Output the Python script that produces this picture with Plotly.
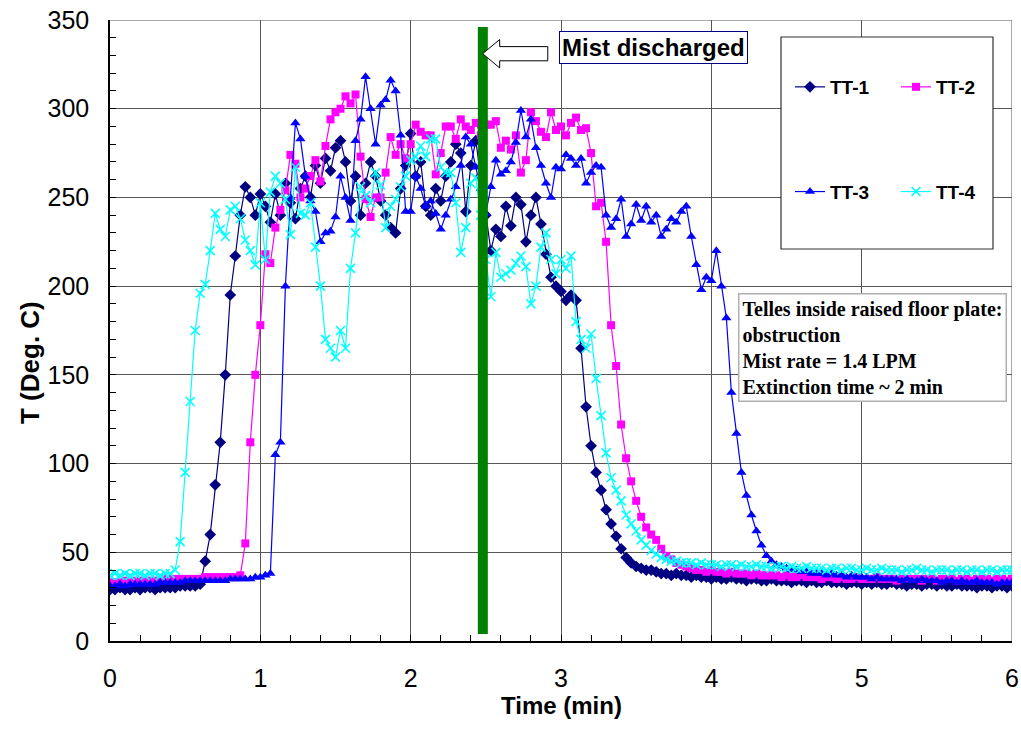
import plotly.graph_objects as go

# ---------------- data (sampled every 2 s = 1/30 min) ----------------
TT1 = [29,29,30,29,29,30,29,30,30,29,30,30,30,30,31,31,31,31,32,
       45,60,88,112,150,195,217,240,256,250,240,252,
       245,236,252,240,258,247,238,255,262,250,268,258,272,265,278,282,270,248,262,240,
       258,270,262,248,240,233,230,255,268,286,262,270,245,240,255,248,262,270,280,275,
       242,268,282,262,
       240,220,232,228,245,234,250,246,225,240,250,235,218,205,200,197,192,195,192,
       165,132,110,95,85,74,66,59,52,47,44,42,41,40,40,39,38,
       38,37,38,37,37,36,37,36,36,35,36,35,35,36,35,35,34,35,35,34,
       34,35,34,34,34,33,34,34,33,34,33,33,34,33,33,33,32,33,33,32,
       33,32,33,32,32,33,32,32,31,32,32,31,32,32,31,32,31,31,32,31,
       31,31,30,31,31,30,31,31,30,31]

TT2 = [33,33,33,34,33,34,34,34,34,34,34,35,35,35,35,35,35,35,35,36,36,36,36,36,36,36,
       37,55,112,150,178,218,213,233,
       243,254,274,269,250,255,262,271,259,279,294,298,300,307,303,308,273,249,239,250,
       250,264,284,274,280,272,280,291,287,285,285,263,275,290,290,283,294,290,288,292,
       285,291,291,293,278,282,277,285,264,271,298,293,287,284,298,288,290,285,292,295,
       288,289,275,
       245,247,225,178,155,122,103,90,79,70,64,60,57,52,48,46,44,43,42,41,40,40,
       39,40,39,39,38,39,38,38,38,37,38,37,37,37,37,36,37,36,36,37,
       36,36,36,35,36,36,35,36,35,35,36,35,35,35,36,35,35,35,34,35,
       35,35,35,34,35,35,34,35,35,35,34,35,35,34,35,35,35,34,35,35,
       34,35]

TT3 = [31,31,32,31,32,32,32,32,32,32,33,33,33,33,33,34,34,34,34,34,
       34,34,34,34,35,35,35,35,35,36,36,37,
       38,105,112,200,250,292,283,262,248,242,225,230,231,239,262,250,237,282,294,
       318,300,280,302,305,316,310,285,242,242,262,255,245,248,241,232,240,249,256,268,
       284,280,267,255,241,256,271,263,265,270,281,299,284,294,278,268,258,250,267,266,
       274,272,268,272,258,264,268,267,
       240,233,238,249,228,235,246,237,245,236,240,228,232,238,236,242,245,228,212,198,
       205,203,220,200,182,140,117,95,82,71,62,54,48,45,43,42,41,40,
       40,39,39,38,38,38,37,38,37,37,36,37,36,36,36,35,36,35,35,35,
       35,34,35,34,34,35,34,34,34,33,34,34,33,34,33,33,34,33,33,33,
       32,33,33,33]

TT4 = [37,38,37,38,37,38,38,37,38,38,37,38,38,
       40,56,95,135,175,196,201,220,241,232,228,243,245,238,226,220,212,247,215,253,262,
       258,249,229,267,241,240,247,222,200,170,165,160,175,165,210,230,256,251,247,264,
       257,233,245,249,256,262,271,273,279,273,283,283,267,264,264,247,219,233,258,261,
       240,
       215,194,219,205,207,209,213,217,211,190,200,222,230,215,207,215,210,217,180,170,
       165,173,148,127,106,92,85,79,71,66,62,57,54,51,49,47,
       46,45,45,44,44,44,43,44,43,43,43,42,43,43,42,43,42,42,43,42,
       42,41,42,42,41,42,41,41,42,41,41,41,40,41,41,40,41,41,40,40,
       41,40,40,41,40,40,40,39,40,40,41,40,40,39,40,40,40,39,40,40,
       39,40,40,39,40,40,39,40,40,40]

SERIES_NAMES = ["TT-1", "TT-2", "TT-3", "TT-4"]
SAMPLE_STEP_MIN = 1 / 30          # 2-second sampling
MIST_TIME = 2.48                   # minute at which mist is discharged
X_TICKS = [0, 1, 2, 3, 4, 5, 6]
Y_TICKS = [0, 50, 100, 150, 200, 250, 300, 350]

def times(vals):
    return [round(i * SAMPLE_STEP_MIN, 5) for i in range(len(vals))]

# ---------------- figure ----------------
W, H = 1021, 740
# plot area in screen pixels: x 110..1012, y 20..641
SL, SR, ST, SB = 110, 1012, 20, 641
ML, MT = SL, ST
MR, MB = W - SR, H - SB
PW, PH = SR - SL, SB - ST

def px(x):   # screen pixel -> paper x
    return (x - SL) / PW

def py(y):   # screen pixel -> paper y
    return (SB - y) / PH

GRID = "#555555"

styles = {
    "TT-1": dict(color="#000080", symbol="diamond", size=9, legend="legend", group="g1"),
    "TT-2": dict(color="#FF00FF", symbol="square", size=8, legend="legend2", group="g2"),
    "TT-3": dict(color="#0000FF", symbol="triangle-up", size=9, legend="legend", group="g3"),
    "TT-4": dict(color="#00FFFF", symbol="x-thin", size=9, legend="legend2", group="g4"),
}

fig = go.Figure()
for name, vals in zip(SERIES_NAMES, [TT1, TT2, TT3, TT4]):
    s = styles[name]
    marker = dict(symbol=s["symbol"], size=s["size"], color=s["color"])
    if s["symbol"] == "x-thin":
        marker["line"] = dict(color=s["color"], width=1.6)
    else:
        marker["line"] = dict(width=0)
    fig.add_trace(go.Scatter(
        x=times(vals), y=vals, name=f"<b>{name}</b>", mode="lines+markers",
        line=dict(color=s["color"], width=1.2), marker=marker,
        legend=s["legend"], legendgroup=s["group"],
    ))

axis_common = dict(
    showline=True, linecolor="black", linewidth=1.5,
    showgrid=True, gridcolor=GRID, gridwidth=1,
    zeroline=False, ticks="inside", ticklen=6, tickcolor="black", tickwidth=1,
    tickfont=dict(size=25, color="black", family="Liberation Sans, Arial"),
    automargin=False, ticklabeloverflow="allow",
)
fig.update_xaxes(range=[0, 6], tickvals=X_TICKS, ticktext=[str(v) for v in X_TICKS],
                 minor=dict(dtick=0.2, tick0=0, ticks="inside", ticklen=6, tickcolor="black", showgrid=False),
                 ticklabelstandoff=14, **axis_common)
fig.update_yaxes(range=[0, 350], tickvals=Y_TICKS, ticktext=[str(v) for v in Y_TICKS],
                 minor=dict(dtick=10, tick0=0, ticks="inside", ticklen=6, tickcolor="black", showgrid=False),
                 ticklabelstandoff=14, **axis_common)

shapes = []
# gridlines at the far edges of the plot (top and right)
shapes.append(dict(type="line", xref="x", yref="y", x0=X_TICKS[0], x1=X_TICKS[-1],
                   y0=Y_TICKS[-1], y1=Y_TICKS[-1], line=dict(color=GRID, width=1), layer="below"))
shapes.append(dict(type="line", xref="x", yref="y", x0=X_TICKS[-1], x1=X_TICKS[-1],
                   y0=Y_TICKS[0], y1=Y_TICKS[-1], line=dict(color=GRID, width=1), layer="below"))
# legend box
shapes.append(dict(type="rect", xref="paper", yref="paper",
                   x0=px(781), x1=px(993), y0=py(249), y1=py(37),
                   fillcolor="white", line=dict(color="#333333", width=1.2), layer="above"))
# mist discharge bar
shapes.append(dict(type="line", xref="x", yref="y", x0=MIST_TIME, x1=MIST_TIME, y0=4, y1=346,
                   line=dict(color="#008000", width=10), layer="above"))
# block arrow pointing to the bar
ax_tip = 2.479
ax_head, ax_end = 2.592, 2.912
path = (f"M{ax_tip},331 L{ax_head},339 L{ax_head},335 L{ax_end},335 "
        f"L{ax_end},327 L{ax_head},327 L{ax_head},323 Z")
shapes.append(dict(type="path", xref="x", yref="y", path=path,
                   fillcolor="white", line=dict(color="black", width=1), layer="above"))

annotations = [
    dict(text="<b>Mist discharged</b>", xref="paper", yref="paper", x=px(653), y=py(48),
         xanchor="center", yanchor="middle", showarrow=False,
         font=dict(size=24, color="black", family="Liberation Sans, Arial"),
         bgcolor="white", bordercolor="#000080", borderwidth=1, borderpad=2),
    dict(text="<b>Telles inside raised floor plate:<br>obstruction<br>Mist rate = 1.4 LPM<br>Extinction time ~ 2 min</b>",
         xref="paper", yref="paper", x=px(738), y=py(293), xanchor="left", yanchor="top",
         align="left", showarrow=False,
         font=dict(size=20, color="black", family="Liberation Serif, Times New Roman"),
         bgcolor="white", bordercolor="#b0b0b0", borderwidth=1.5, borderpad=3),
    dict(text="<b>Time (min)</b>", xref="paper", yref="paper", x=px(561), y=py(705),
         xanchor="center", yanchor="middle", showarrow=False,
         font=dict(size=24, color="black", family="Liberation Sans, Arial")),
    dict(text="<b>T (Deg. C)</b>", xref="paper", yref="paper", x=px(30), y=py(363),
         xanchor="center", yanchor="middle", showarrow=False, textangle=-90,
         font=dict(size=26, color="black", family="Liberation Sans, Arial")),
]

legend_common = dict(bgcolor="rgba(0,0,0,0)", borderwidth=0, tracegroupgap=77,
                     font=dict(size=19, color="black", family="Liberation Sans, Arial"),
                     xanchor="left", yanchor="top", itemclick=False)

fig.update_layout(
    width=W, height=H, margin=dict(l=ML, r=MR, t=MT, b=MB, autoexpand=False),
    paper_bgcolor="white", plot_bgcolor="white",
    font=dict(family="Liberation Sans, Arial", color="black"),
    showlegend=True,
    legend=dict(x=px(790), y=py(68), **legend_common),
    legend2=dict(x=px(896), y=py(68), **legend_common),
    shapes=shapes, annotations=annotations,
)

fig.write_html("out.html", config={"displayModeBar": False},
               post_script="document.body.style.margin='0';")
